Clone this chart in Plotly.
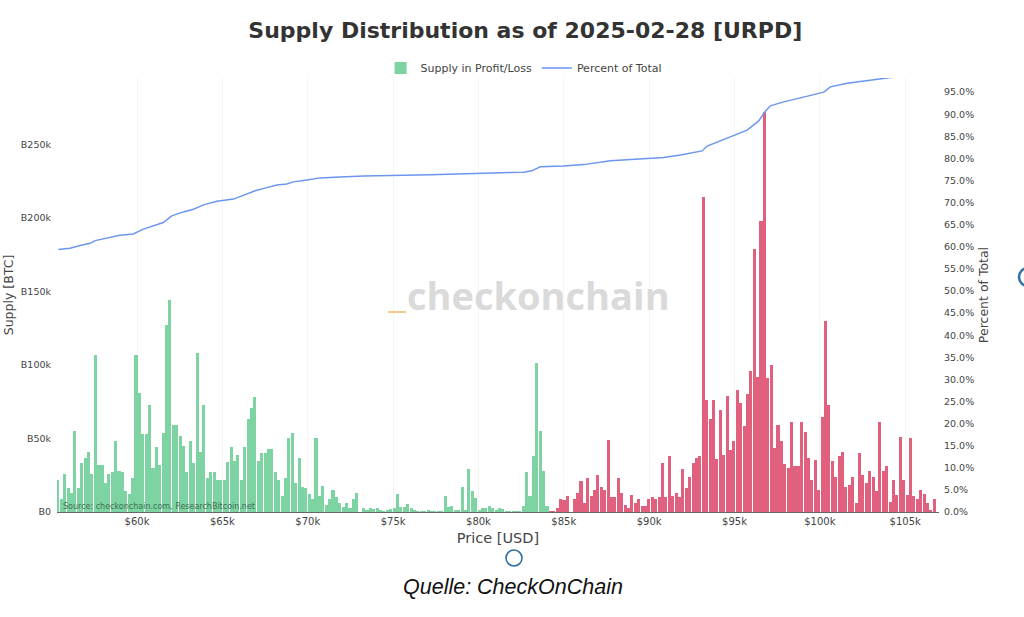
import plotly.graph_objects as go

# ---------------- data ----------------
BIN_START = 55360          # USD, centre of first price bucket
BIN_WIDTH = 199            # USD per bucket
SPOT_PRICE = 84100         # buckets below -> profit (green), above -> loss (red)

# supply per bucket, thousands of BTC
SUPPLY_K = [
    22, 9, 26, 16, 13, 55, 16, 33, 37, 41, 26, 107,
    32, 32, 20, 26, 27, 48, 28, 27, 14, 12, 23, 107,
    81, 53, 53, 73, 30, 44, 32, 54, 127, 144,
    59, 59, 52, 45, 27, 48, 33, 108,
    41, 73,
    23, 27, 27, 22, 22, 22, 34, 44, 35, 39, 22, 44, 63, 71, 78,
    35, 40, 40, 43, 43, 27, 22, 11, 23, 50,
    54, 20, 37, 17, 16, 12, 9, 50,
    11, 18, 5, 9, 15, 10, 6, 3.6, 6, 2.5, 9, 13, 0, 2.5, 1, 2.5, 2, 2.5, 1,
    0.5, 1, 2, 3, 12, 3.6, 3.6, 5.5, 2.5, 1,
    0.3, 0.5, 0.3, 0.8, 0.3, 0.5, 0.2, 0.4,
    11, 3.6, 4, 1, 1, 17, 1.4, 29, 14, 9.5, 1, 3, 3, 4, 3, 1.5, 3, 2,
    0.3, 0.2, 0.5, 0.3, 0.6,
    4, 27, 11, 38, 101, 55, 28, 4,
    0.5, 0.3, 2.5,
    9, 8, 11, 0, 9, 13, 21, 6, 23, 11, 15, 25, 17, 15, 49,
    10, 10, 23, 13, 5, 3, 11.5, 6, 8.6, 4, 4, 8.6, 10, 9, 10, 33.6, 10, 38, 11, 13,
    10, 29, 16, 23.6, 33, 36.5, 38,
    214,
    76, 63, 76, 36, 69, 39, 79, 42, 48.6, 82.6, 74, 58.6, 80, 96, 179, 92, 198, 272,
    91, 100, 43.5, 59, 48.6, 32.7, 30, 61, 31, 31, 61, 54.5, 36.8, 21.8, 35.4, 15, 64.7, 129.6,
    73, 35, 24, 38, 41, 17, 18.4, 23.8, 6.3, 40, 25, 19.8, 28, 24, 14.5, 61, 28, 31, 7,
    21.8, 11.6, 51, 22, 11.6, 50, 11, 9, 15, 12, 6, 1, 8.6,
]

# cumulative "Percent of Total" line, read at sample prices
PCT_PRICE_K = [55.39, 56.07, 56.66, 57.25, 57.54, 58.42, 59.00, 59.78, 60.37, 61.54,
               62.03, 62.71, 63.30, 63.89, 64.67, 65.65, 66.23, 66.92, 67.60, 68.19,
               68.77, 69.16, 69.95, 70.73, 71.90, 73.27, 77.17, 79.12, 79.71, 82.64,
               83.13, 83.62, 84.99, 86.16, 87.73, 88.90, 90.85, 91.83, 93.10, 93.40,
               94.17, 94.95, 95.74, 96.42, 96.81, 97.10, 97.88, 98.86, 99.64, 100.23,
               100.62, 101.60, 102.38, 103.36, 104.72, 106.72]
PCT_VALUE = [59.4, 59.7, 60.3, 60.8, 61.4, 62.1, 62.6, 62.9, 64.0, 65.5,
             67.0, 67.9, 68.5, 69.5, 70.3, 70.8, 71.6, 72.7, 73.4, 74.0,
             74.2, 74.7, 75.1, 75.6, 75.8, 76.0, 76.3, 76.5, 76.7, 76.9,
             77.2, 78.1, 78.3, 78.6, 79.5, 79.8, 80.2, 80.8, 81.7, 82.8,
             84.0, 85.1, 86.4, 88.5, 90.7, 91.9, 92.8, 93.7, 94.5, 95.0,
             96.2, 97.0, 97.4, 97.9, 98.6, 100.0]

X_TICKS = [60000, 65000, 70000, 75000, 80000, 85000, 90000, 95000, 100000, 105000]
X_TICK_TEXT = ["$60k", "$65k", "$70k", "$75k", "$80k", "$85k", "$90k", "$95k", "$100k", "$105k"]
Y_TICKS = [0, 50000, 100000, 150000, 200000, 250000]
Y_TICK_TEXT = ["B0", "B50k", "B100k", "B150k", "B200k", "B250k"]

GREEN = "#7dd4a2"
RED = "#e0607d"
BLUE = "#6c96ee"

# ---------------- build figure ----------------
prices = [BIN_START + i * BIN_WIDTH for i in range(len(SUPPLY_K))]
supply = [v * 1000 for v in SUPPLY_K]
colors = [GREEN if p < SPOT_PRICE else RED for p in prices]
pct_x = [p * 1000 for p in PCT_PRICE_K]

fig = go.Figure()
fig.add_trace(go.Bar(
    x=prices, y=supply, name="Supply in Profit/Loss",
    marker=dict(color=colors, line=dict(width=0)),
    width=BIN_WIDTH * 0.9,
))
fig.add_trace(go.Scatter(
    x=pct_x, y=PCT_VALUE, name="Percent of Total", yaxis="y2",
    mode="lines", line=dict(color=BLUE, width=1.5),
))

FONT = "DejaVu Sans, Verdana, sans-serif"
L, R, T, B = 57, 85, 78, 105
PW, PH = 1024 - L - R, 617 - T - B

fig.update_layout(
    width=1024, height=617,
    margin=dict(l=L, r=R, t=T, b=B, autoexpand=False),
    paper_bgcolor="white", plot_bgcolor="white",
    font=dict(family=FONT, color="#444", size=10),
    title=dict(text="<b>Supply Distribution as of 2025-02-28 [URPD]</b>",
               x=0.513, xref="container", xanchor="center",
               y=0.951, yref="container", yanchor="middle",
               font=dict(size=22, color="#333", family=FONT)),
    showlegend=True,
    legend=dict(orientation="h", x=0.529, xanchor="center",
                y=1 - 68 / 617, yref="container", yanchor="middle",
                itemwidth=30,
                font=dict(size=11, color="#444"), bgcolor="rgba(0,0,0,0)"),
    bargap=0,
    xaxis=dict(range=[55310, 106980], tickvals=X_TICKS, ticktext=X_TICK_TEXT,
               automargin=False,
               showgrid=True, gridcolor="#f5f5f5", zeroline=False,
               showline=True, linecolor="#666", linewidth=1,
               ticks="", tickfont=dict(size=10, color="#444"),
               title=dict(text="Price [USD]", font=dict(size=14.5, color="#444"), standoff=6)),
    yaxis=dict(range=[0, 295000], tickvals=Y_TICKS, ticktext=Y_TICK_TEXT,
               automargin=False, ticklabelstandoff=5,
               showgrid=False, zeroline=False, ticks="",
               tickfont=dict(size=9.5, color="#444"),
               title=dict(text="Supply [BTC]", font=dict(size=12.5, color="#444"), standoff=4)),
    yaxis2=dict(range=[0, 98.2], overlaying="y", side="right", dtick=5,
                automargin=False, ticklabelstandoff=4,
                tickformat=".1f", ticksuffix="%", showgrid=False, zeroline=False,
                ticks="", tickfont=dict(size=9.5, color="#444"),
                title=dict(text="Percent of Total", font=dict(size=12.5, color="#444"), standoff=6)),
)

def px_x(x):
    return (x - L) / PW

def px_y(y):
    return (617 - B - y) / PH

# watermark
fig.add_annotation(text="<b>checkonchain</b>", xref="paper", yref="paper",
                   x=px_x(538), y=px_y(295), xanchor="center", yanchor="middle",
                   showarrow=False, font=dict(size=38, color="#dadada", family="Open Sans, sans-serif"))
fig.add_shape(type="line", xref="paper", yref="paper",
              x0=px_x(388), x1=px_x(406), y0=px_y(312), y1=px_y(312),
              line=dict(color="#f7c98c", width=2))
# source note
fig.add_annotation(text="Source: checkonchain.com, ResearchBitcoin.net", xref="paper", yref="paper",
                   x=px_x(61), y=px_y(506), xanchor="left", yanchor="middle", showarrow=False,
                   font=dict(size=8, color="#3f6e55", family=FONT))
# caption
fig.add_annotation(text="<i>Quelle: CheckOnChain</i>", xref="paper", yref="paper",
                   x=px_x(513), y=px_y(587), xanchor="center", yanchor="middle", showarrow=False,
                   font=dict(size=21.5, color="#111", family="Liberation Sans, Arial, sans-serif"))
# screenshot handles (blue rings)
fig.add_shape(type="circle", xref="paper", yref="paper",
              x0=px_x(506), x1=px_x(522), y0=px_y(566), y1=px_y(550),
              line=dict(color="#2f6fa8", width=1.6))
fig.add_shape(type="circle", xref="paper", yref="paper",
              x0=px_x(1019), x1=px_x(1037), y0=px_y(286), y1=px_y(268),
              line=dict(color="#2f6fa8", width=2.5))

fig.write_html("out.html", config={"displayModeBar": False},
               post_script="document.body.style.margin='0px';")
